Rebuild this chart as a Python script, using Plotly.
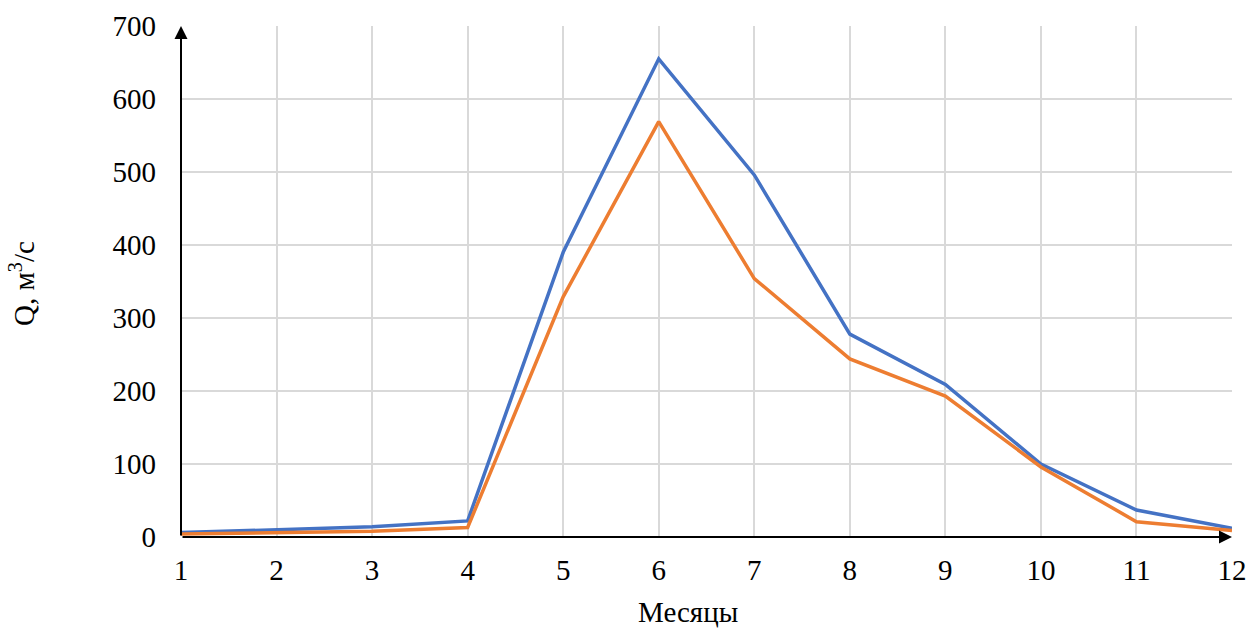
import plotly.graph_objects as go

# Monthly discharge, m³/s
months = list(range(1, 13))
series_blue = [6, 10, 14, 22, 390, 655, 496, 278, 209, 100, 37, 12]
series_orange = [4, 6, 8, 13, 329, 569, 354, 244, 193, 96, 21, 9]
y_ticks = [0, 100, 200, 300, 400, 500, 600, 700]

FONT = "Liberation Serif, Times New Roman, serif"
FSIZE = 29
GRID = "#d9d9d9"

fig = go.Figure()
fig.add_trace(go.Scatter(x=months, y=series_blue, mode="lines",
                         line=dict(color="#4472C4", width=3.5), showlegend=False))
fig.add_trace(go.Scatter(x=months, y=series_orange, mode="lines",
                         line=dict(color="#ED7D31", width=3.5), showlegend=False))

fig.update_layout(
    width=1249, height=628,
    margin=dict(l=181, r=17, t=26, b=91),
    plot_bgcolor="white", paper_bgcolor="white",
    font=dict(family=FONT, size=FSIZE, color="black"),
    xaxis=dict(range=[1, 12], tickvals=months, showgrid=True, gridcolor=GRID,
               gridwidth=1.5, zeroline=False, showline=False, ticks="",
               ticklabelstandoff=13, automargin=False, fixedrange=True),
    yaxis=dict(range=[0, 700], tickvals=y_ticks, showgrid=True, gridcolor=GRID,
               gridwidth=1.5, zeroline=False, showline=False, ticks="",
               ticklabelstandoff=24, automargin=False, fixedrange=True),
)

# Axes drawn as arrows
fig.add_annotation(x=12, y=0, ax=1, ay=0, xref="x", yref="y", axref="x", ayref="y",
                   showarrow=True, arrowhead=2, arrowsize=1.3, arrowwidth=2,
                   arrowcolor="black", text="")
fig.add_annotation(x=1, y=700, ax=1, ay=0, xref="x", yref="y", axref="x", ayref="y",
                   showarrow=True, arrowhead=2, arrowsize=1.3, arrowwidth=2,
                   arrowcolor="black", text="")

# Axis titles
fig.add_annotation(x=(688 - 181) / 1051, y=-(612 - 537) / 511, xref="paper", yref="paper",
                   text="Месяцы", showarrow=False, xanchor="center", yanchor="middle",
                   font=dict(family=FONT, size=FSIZE))
fig.add_annotation(x=-(181 - 22) / 1051, y=(537 - 284) / 511, xref="paper", yref="paper",
                   text="Q, м<sup>3</sup>/с", textangle=-90, showarrow=False,
                   xanchor="center", yanchor="middle",
                   font=dict(family=FONT, size=FSIZE))

fig.write_html("out.html")
